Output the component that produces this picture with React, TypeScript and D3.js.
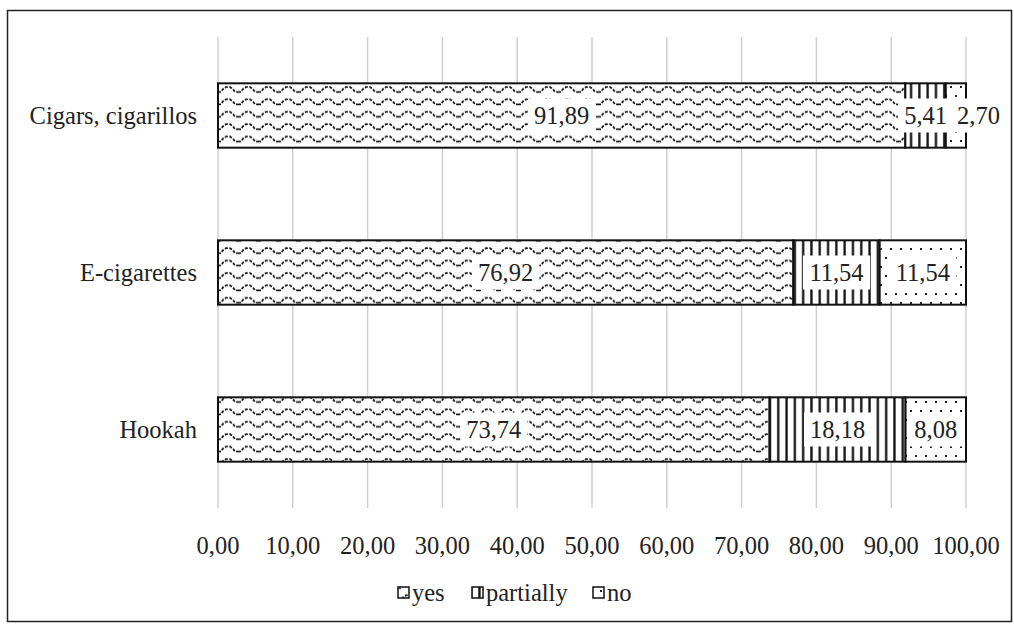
import React from "react";
import * as d3 from "d3";

const categories = ["Cigars, cigarillos", "E-cigarettes", "Hookah"];
const seriesNames = ["yes", "partially", "no"];
const yesValues = [91.89, 76.92, 73.74];
const partiallyValues = [5.41, 11.54, 18.18];
const noValues = [2.7, 11.54, 8.08];
const xTicks = [0, 10, 20, 30, 40, 50, 60, 70, 80, 90, 100];

const W = 1014;
const H = 624;
const margin = { left: 218, right: 48, top: 37, bottom: 116 };

const fmt = (v: number) => v.toFixed(2).replace(".", ",");
const FS = 24.5;
const FONT = "Liberation Serif";
const tStyle = { fontFamily: FONT };

export default function App() {
  const x = d3.scaleLinear().domain([0, 100]).range([margin.left, W - margin.right]);
  const y = d3
    .scaleBand()
    .domain(categories)
    .range([margin.top, H - margin.bottom])
    .paddingInner(0.59)
    .paddingOuter(0.295);

  const rows = categories.map((c, i) => ({
    cat: c,
    vals: [yesValues[i], partiallyValues[i], noValues[i]],
  }));
  const stack = rows.map((r) => {
    let acc = 0;
    return r.vals.map((v, k) => {
      const s = { x0: acc, x1: acc + v, v, k };
      acc += v;
      return s;
    });
  });
  // label positions with simple collision avoidance (shift right)
  const charW = (ch: string) => (ch === "," ? 0.25 : 0.5);
  const labelPos = stack.map((segs) => {
    let prevRight = -Infinity;
    return segs.map((s) => {
      const label = fmt(s.v);
      const tw = label.split("").reduce((a, ch) => a + charW(ch), 0) * FS;
      let cx = (x(s.x0) + x(s.x1)) / 2;
      if (cx - tw / 2 < prevRight + 10) cx = prevRight + 10 + tw / 2;
      prevRight = cx + tw / 2;
      return { cx, tw, label };
    });
  });
  const patIds = ["pYes", "pPart", "pNo"];

  const legendItems = [
    { name: seriesNames[0], x: 398 },
    { name: seriesNames[1], x: 472 },
    { name: seriesNames[2], x: 593 },
  ];

  return (
    <svg width={W} height={H} style={{ position: "absolute", left: 0, top: 0 }}>
      <defs>
        <pattern id="pYes" patternUnits="userSpaceOnUse" width={20} height={12.4} x={218} y={84}>
          <rect width={20} height={12.4} fill="#fff" />
          <path
            d="M0,8 L3,8 L5,5 L8,3 L12,3 L15,5 L17,8 L20,8"
            fill="none"
            stroke="#111"
            strokeWidth={1.8}
            strokeDasharray="3,1.5"
          />
        </pattern>
        <pattern id="pPart" patternUnits="userSpaceOnUse" width={8.3} height={10} x={218}>
          <rect width={8.3} height={10} fill="#fff" />
          <rect x={3} y={0} width={2.3} height={10} fill="#111" />
        </pattern>
        <pattern id="pNo" patternUnits="userSpaceOnUse" width={10} height={18} x={218} y={83}>
          <rect width={10} height={18} fill="#fff" />
          <rect x={2} y={3} width={2} height={2} fill="#222" />
          <rect x={7} y={12} width={2} height={2} fill="#222" />
        </pattern>
      </defs>
      <rect x={7.5} y={10.5} width={1004} height={611} fill="#fff" stroke="#222" strokeWidth={1.5} />
      {xTicks.map((t) => (
        <line key={t} x1={x(t)} x2={x(t)} y1={margin.top} y2={H - margin.bottom} stroke="#d0d0d0" strokeWidth={1.5} />
      ))}
      {rows.map((r, i) => {
        const by = y(r.cat)!;
        const bh = y.bandwidth();
        return (
          <g key={r.cat}>
            {stack[i].map((s) => (
              <rect
                key={s.k}
                x={x(s.x0)}
                y={by}
                width={x(s.x1) - x(s.x0)}
                height={bh}
                fill={`url(#${patIds[s.k]})`}
                stroke="#111"
                strokeWidth={2}
              />
            ))}
            {labelPos[i].map((l, k) => (
              <g key={"l" + k}>
                <rect x={l.cx - l.tw / 2 - 6} y={by + bh / 2 - 17} width={l.tw + 12} height={34} fill="#fff" />
                <text x={l.cx} y={by + bh / 2} dy="0.35em" textAnchor="middle" fontSize={FS} fill="#222" style={tStyle}>
                  {l.label}
                </text>
              </g>
            ))}
            <text x={197} y={by + bh / 2} dy="0.35em" textAnchor="end" fontSize={FS} fill="#222" style={tStyle}>
              {r.cat}
            </text>
          </g>
        );
      })}
      {xTicks.map((t) => (
        <text key={"t" + t} x={x(t)} y={545} dy="0.35em" textAnchor="middle" fontSize={FS} fill="#222" style={tStyle}>
          {fmt(t)}
        </text>
      ))}
      {legendItems.map((l, k) => (
        <g key={l.name}>
          <rect x={l.x} y={587} width={11} height={11} fill={`url(#${patIds[k]})`} stroke="#111" strokeWidth={1.5} />
          <text x={l.x + 14} y={592} dy="0.35em" fontSize={FS} fill="#222" style={tStyle}>
            {l.name}
          </text>
        </g>
      ))}
    </svg>
  );
}
